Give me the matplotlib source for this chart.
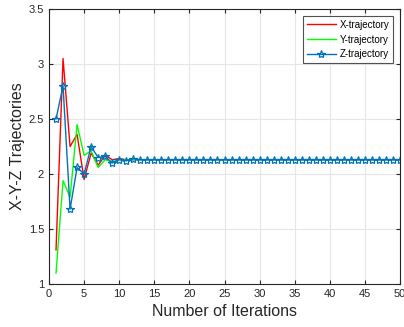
import numpy as np
import matplotlib
matplotlib.use("Agg")
import matplotlib.pyplot as plt

plt.rcParams['font.family'] = ['Liberation Sans', 'DejaVu Sans']

iters = np.arange(1, 51)
x_head = [1.31, 3.05, 2.25, 2.36, 1.95, 2.19, 2.08, 2.17, 2.13, 2.14, 2.13, 2.13]
y_head = [1.10, 1.94, 1.79, 2.45, 2.17, 2.21, 2.06, 2.13, 2.11, 2.13, 2.13, 2.13]
z_head = [2.50, 2.80, 1.68, 2.06, 2.00, 2.25, 2.15, 2.16, 2.10, 2.13, 2.12, 2.14]
steady = 2.13

x_traj = x_head + [steady] * (50 - len(x_head))
y_traj = y_head + [steady] * (50 - len(y_head))
z_traj = z_head + [steady] * (50 - len(z_head))

fig = plt.figure(figsize=(4.04, 3.27), dpi=100)
ax = fig.add_axes([49/404, 1 - 284/327, 351/404, 275/327])

ax.plot(iters, x_traj, color='#ff0000', lw=1.0, label='X-trajectory')
ax.plot(iters, y_traj, color='#00ff00', lw=1.0, label='Y-trajectory')
ax.plot(iters, z_traj, color='#0072bd', lw=1.0, marker='*', ms=6,
        mfc='none', mec='#0072bd', mew=0.9, label='Z-trajectory')

ax.set_xlim(0, 50)
ax.set_ylim(1, 3.5)
ax.set_xticks(np.arange(0, 51, 5))
ax.set_yticks(np.arange(1, 3.51, 0.5))
ax.set_yticklabels(['1', '1.5', '2', '2.5', '3', '3.5'])
ax.grid(True, color='#e6e6e6', lw=0.8)
ax.set_axisbelow(True)
ax.tick_params(direction='in', length=3, labelsize=8, colors='#262626',
               top=True, right=True)
for s in ax.spines.values():
    s.set_color('#262626')
    s.set_linewidth(0.8)

ax.set_xlabel('Number of Iterations', fontsize=11.5, color='#262626', labelpad=4)
ax.set_ylabel('X-Y-Z Trajectories', fontsize=11.5, color='#262626', labelpad=3)

leg = ax.legend(loc='upper right', fontsize=7, frameon=True, fancybox=False,
                edgecolor='#262626', borderaxespad=0.7, handlelength=3.0,
                labelspacing=0.5, borderpad=0.4, handletextpad=0.4)
leg.get_frame().set_linewidth(0.8)

fig.savefig('out.png', dpi=100)
